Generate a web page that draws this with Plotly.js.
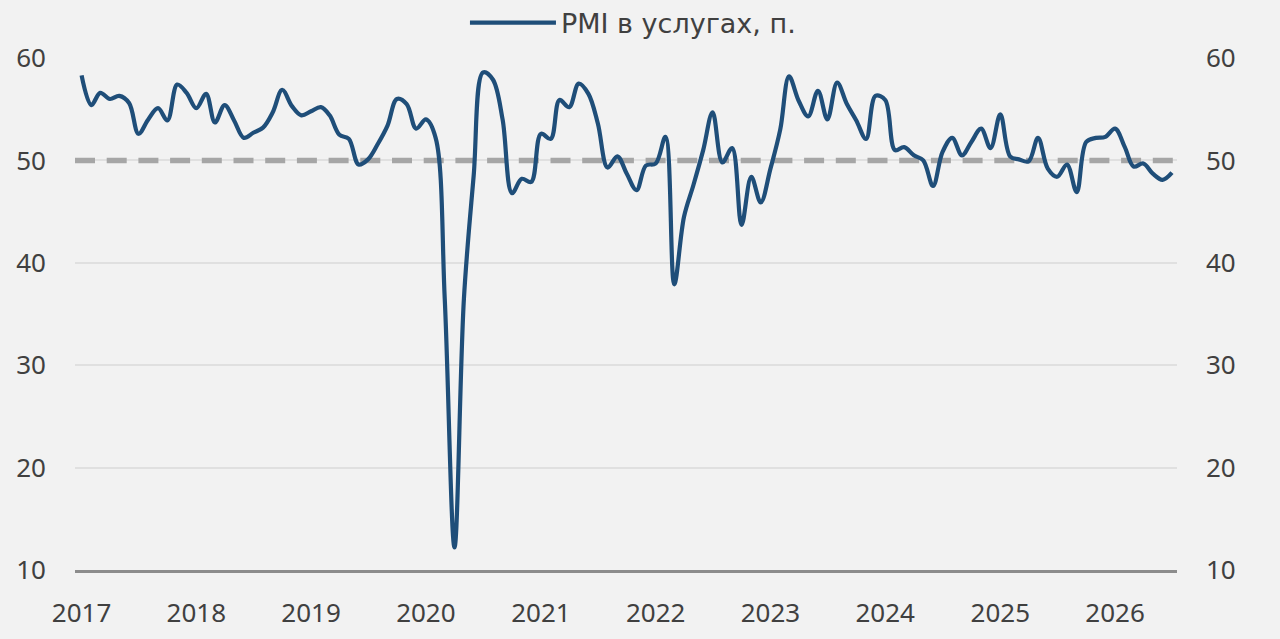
<!DOCTYPE html>
<html>
<head>
<meta charset="utf-8">
<script src="https://cdn.plot.ly/plotly-3.0.1.min.js"></script>
<style>
  html, body { margin: 0; padding: 0; background: #f2f2f2; }
  #chart { width: 1280px; height: 639px; }
</style>
</head>
<body>
<div id="chart"></div>
<script>
// Series: PMI в услугах, monthly, starting January 2017
const seriesName = 'PMI в услугах, п.';
const startYear = 2017;
const pmiServices = [
  58.3, 55.4, 56.6, 56.0, 56.3, 55.6, 52.6, 54.0, 55.1, 53.9, 57.4, 56.6,
  55.1, 56.5, 53.7, 55.4, 53.9, 52.2, 52.7, 53.2, 54.7, 56.9, 55.3, 54.4,
  54.8, 55.2, 54.4, 52.5, 52.1, 49.6, 50.1, 51.6, 53.4, 56.0, 55.5, 53.1,
  54.0, 52.2, 36.5, 12.2, 36.5, 48.5, 58.6, 57.9, 54.0, 46.8, 48.2, 47.9,
  52.6, 52.1, 55.9, 55.2, 57.5, 56.5, 53.6, 49.3, 50.4, 48.7, 47.1, 49.5,
  49.7, 52.3, 37.9, 44.5, 47.6, 51.0, 54.7, 49.8, 51.2, 43.7, 48.4, 45.9,
  49.2, 53.0, 58.2, 55.8, 54.3, 56.8, 54.0, 57.6, 55.5, 53.9, 52.1, 56.3,
  55.9, 51.0, 51.3, 50.5, 50.0, 47.5, 50.8, 52.2, 50.5, 51.8, 53.1, 51.2,
  54.5, 50.4, 50.1, 49.9, 52.2, 49.2, 48.4, 49.6, 46.9, 51.8, 52.2, 52.3,
  53.1, 51.3, 49.4, 49.7, 48.7, 48.1, 48.8
];
const thresholdLevel = 50;
const yTickValues = [10, 20, 30, 40, 50, 60];
const xTickYears = ['2017','2018','2019','2020','2021','2022','2023','2024','2025','2026'];
const xRange = ['2016-12-11', '2026-07-17'];

// month dates for each observation
const months = pmiServices.map((v, i) => {
  const y = startYear + Math.floor(i / 12);
  const m = (i % 12) + 1;
  return y + '-' + String(m).padStart(2, '0') + '-01';
});
const xTickVals = xTickYears.map(y => y + '-01-01');

const FONT = '"Noto Sans", "DejaVu Sans", sans-serif';
const LEGEND_FONT = '"DejaVu Sans", "Noto Sans", sans-serif';
const TXT = '#404040';

const traces = [
  {
    x: xRange, y: xRange.map(() => thresholdLevel), type: 'scatter', mode: 'lines',
    line: { color: '#a6a6a6', width: 5.5, dash: '20px,11.7px' },
    showlegend: false, hoverinfo: 'skip', cliponaxis: true
  },
  {
    x: months, y: pmiServices, name: seriesName, type: 'scatter', mode: 'lines',
    line: { color: '#1f4e79', width: 4.2, shape: 'spline', smoothing: 1 },
    hoverinfo: 'skip'
  },
  {
    x: months, y: pmiServices, yaxis: 'y2', type: 'scatter', mode: 'lines',
    line: { color: 'rgba(0,0,0,0)', width: 0 }, showlegend: false, hoverinfo: 'skip'
  }
];

const layout = {
  width: 1280, height: 639,
  paper_bgcolor: '#f2f2f2', plot_bgcolor: '#f2f2f2',
  margin: { l: 75, r: 103, t: 58, b: 69 },
  font: { family: FONT, size: 26, color: TXT },
  showlegend: true,
  legend: {
    orientation: 'h', xref: 'container', yref: 'container',
    x: 0.4945, xanchor: 'center', y: 0.964, yanchor: 'middle',
    font: { family: LEGEND_FONT, size: 27, color: TXT },
    itemwidth: 86, bgcolor: 'rgba(0,0,0,0)'
  },
  xaxis: {
    type: 'date', range: xRange,
    tickmode: 'array', tickvals: xTickVals, ticktext: xTickYears,
    showgrid: false, zeroline: false, ticks: '',
    showline: true, linecolor: '#8c8c8c', linewidth: 3,
    ticklabelstandoff: 18,
    tickfont: { family: FONT, size: 26, color: TXT }
  },
  yaxis: {
    range: [10, 60], tickmode: 'array', tickvals: yTickValues,
    showgrid: true, gridcolor: '#e0e0e0', gridwidth: 2,
    zeroline: false, ticks: '', showline: false,
    ticklabelstandoff: 28,
    tickfont: { family: FONT, size: 26, color: TXT }
  },
  yaxis2: {
    range: [10, 60], tickmode: 'array', tickvals: yTickValues,
    overlaying: 'y', side: 'right', showgrid: false, zeroline: false,
    ticks: '', showline: false, ticklabelstandoff: 28,
    tickfont: { family: FONT, size: 26, color: TXT }
  }
};

Plotly.newPlot('chart', traces, layout, { staticPlot: true, displayModeBar: false });
</script>
</body>
</html>
